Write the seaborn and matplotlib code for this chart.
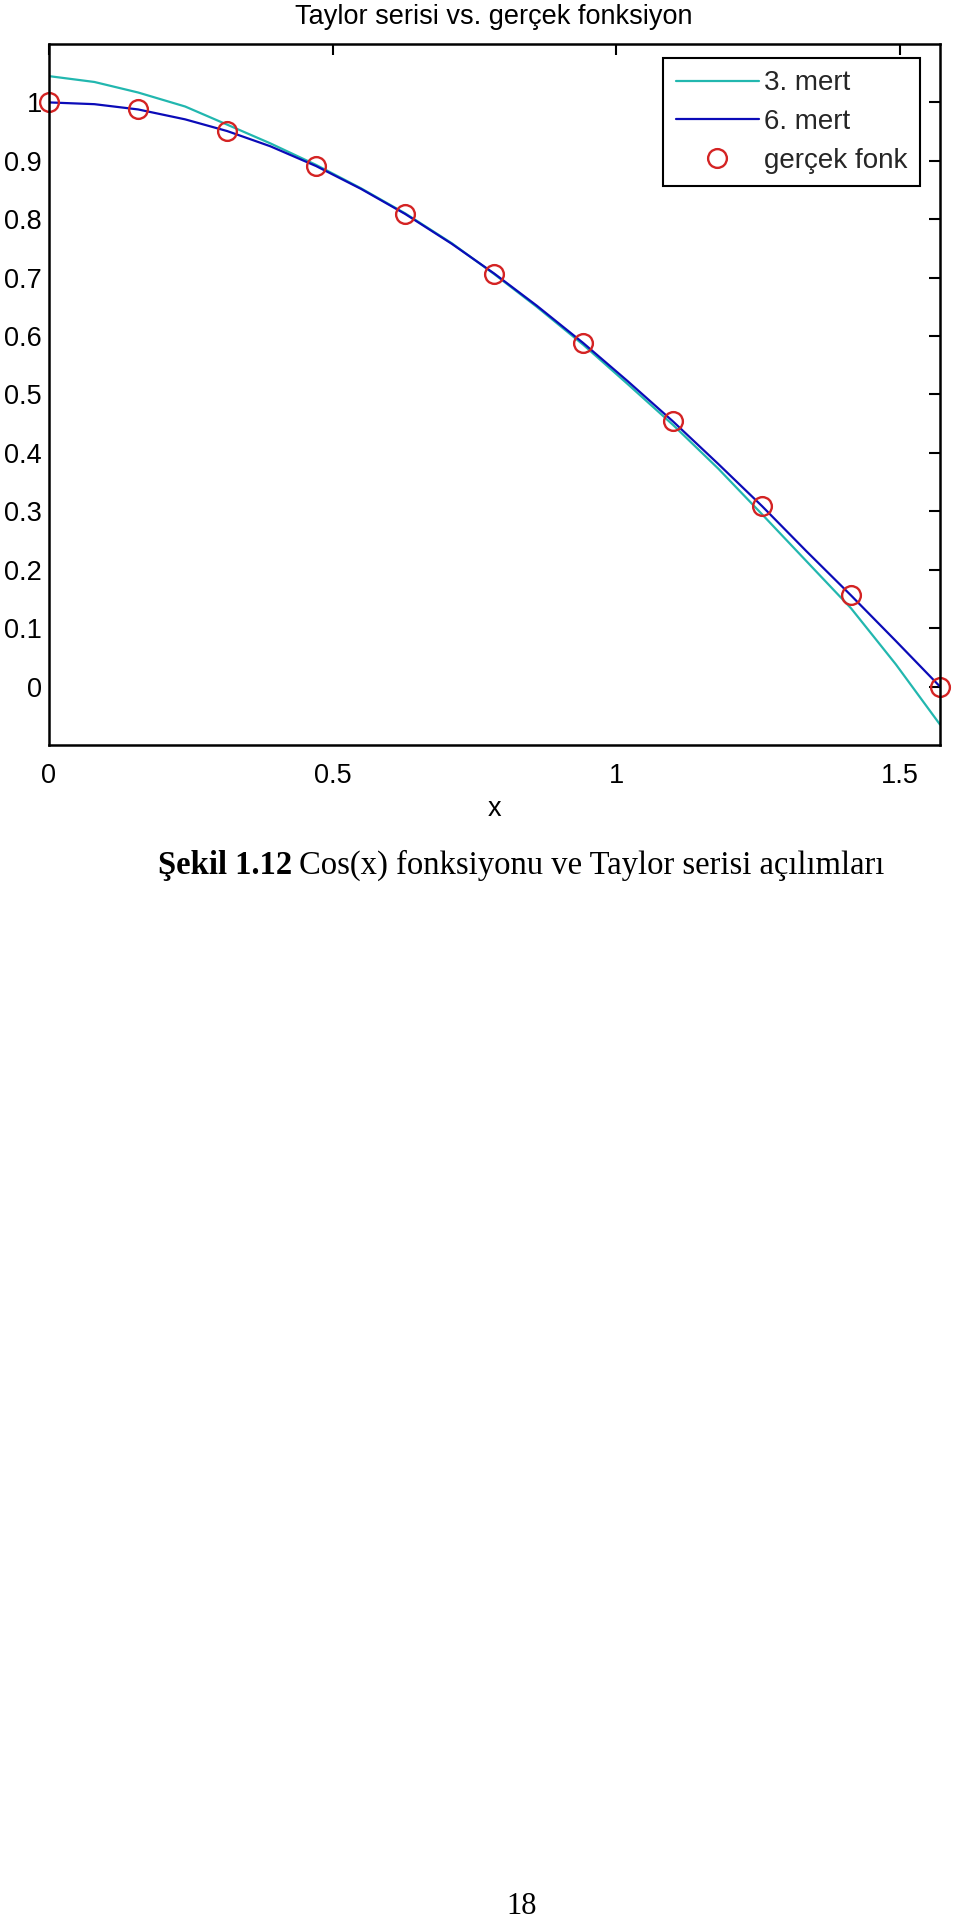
import matplotlib
matplotlib.use("Agg")
import matplotlib.pyplot as plt
import seaborn as sns

# ---- data ----
x_line = [0.0, 0.08, 0.157, 0.24, 0.314, 0.39, 0.471, 0.55, 0.628, 0.71, 0.785,
          0.86, 0.942, 1.02, 1.100, 1.18, 1.257, 1.335, 1.414, 1.493, 1.5708]
y_3mert = [1.045, 1.035, 1.017, 0.993, 0.962, 0.930, 0.893, 0.853, 0.810, 0.759, 0.706,
           0.650, 0.585, 0.518, 0.448, 0.373, 0.295, 0.215, 0.134, 0.038, -0.065]
y_6mert = [1.000, 0.997, 0.988, 0.971, 0.951, 0.925, 0.891, 0.852, 0.809, 0.758, 0.707,
           0.652, 0.588, 0.523, 0.454, 0.381, 0.309, 0.232, 0.156, 0.078, 0.000]
x_points = [0.0, 0.157, 0.314, 0.471, 0.628, 0.785, 0.942, 1.100, 1.257, 1.414, 1.5708]
y_points = [1.000, 0.988, 0.951, 0.891, 0.809, 0.707, 0.588, 0.454, 0.309, 0.156, 0.000]

series_labels = ["3. mert", "6. mert", "gerçek fonk"]
title_text = "Taylor serisi vs. gerçek fonksiyon"
xlabel_text = "x"
x_ticks = [0, 0.5, 1, 1.5]
x_ticklabels = ["0", "0.5", "1", "1.5"]
y_ticks = [0, 0.1, 0.2, 0.3, 0.4, 0.5, 0.6, 0.7, 0.8, 0.9, 1.0]
y_ticklabels = ["0", "0.1", "0.2", "0.3", "0.4", "0.5", "0.6", "0.7", "0.8", "0.9", "1"]
caption_bold = "Şekil 1.12"
caption_rest = "Cos(x) fonksiyonu ve Taylor serisi açılımları"
page_number = "18"

# ---- styling ----
sns.set_theme(style="white")
plt.rcParams["font.family"] = ["Liberation Sans", "DejaVu Sans"]

W, H = 960, 1919
fig = plt.figure(figsize=(W / 100, H / 100), dpi=100)
fig.patch.set_facecolor("white")
ax_l, ax_r, ax_t, ax_b = 49, 940, 44, 745
ax = fig.add_axes([ax_l / W, 1 - ax_b / H, (ax_r - ax_l) / W, (ax_b - ax_t) / H])
ax.set_facecolor("white")

cyan = "#22B7AF"
blue = "#0B0BB8"
red = "#D42323"

sns.lineplot(x=x_line, y=y_3mert, color=cyan, linewidth=1.6, label=series_labels[0],
             ax=ax, sort=False, estimator=None)
sns.lineplot(x=x_line, y=y_6mert, color=blue, linewidth=1.6, label=series_labels[1],
             ax=ax, sort=False, estimator=None)
sns.lineplot(x=x_points, y=y_points, color=red, linestyle="", marker="o", markersize=13.5,
             markerfacecolor="none", markeredgecolor=red, markeredgewidth=1.7,
             label=series_labels[2], ax=ax, sort=False, estimator=None, clip_on=False)

ax.set_xlim(0, 1.5708)
ax.set_ylim(-0.1, 1.1)
ax.set_xticks(x_ticks)
ax.set_xticklabels(x_ticklabels)
ax.set_yticks(y_ticks)
ax.set_yticklabels(y_ticklabels)
ax.tick_params(axis="both", direction="in", length=8, width=1.5, colors="black",
               labelsize=19.5, top=True, right=True)
ax.tick_params(axis="x", pad=13)
ax.tick_params(axis="y", pad=5)
for s in ax.spines.values():
    s.set_visible(True)
    s.set_color("black")
    s.set_linewidth(1.8)
ax.grid(False)
ax.set_xlabel(xlabel_text, fontsize=19.5, labelpad=5, color="black")
ax.set_ylabel("")

leg = ax.legend(loc="upper right",
                bbox_to_anchor=((920 - ax_l) / (ax_r - ax_l), 1 - (58 - ax_t) / (ax_b - ax_t)),
                borderaxespad=0, fontsize=20, handlelength=3.0, handletextpad=0.18,
                labelspacing=0.45, borderpad=0.45, fancybox=False, shadow=False,
                framealpha=1, edgecolor="black", numpoints=1)
leg.get_frame().set_linewidth(1.5)

fig.text(494 / W, 1 - 17 / H, title_text, ha="center", va="center", fontsize=19.5,
         color="black")

# caption: bold part + regular part, baseline-aligned
fig.canvas.draw()
renderer = fig.canvas.get_renderer()
cap_y = 1 - 874 / H
t1 = fig.text(158 / W, cap_y, caption_bold, ha="left", va="baseline",
              fontfamily=["Liberation Serif", "DejaVu Serif"], fontweight="bold",
              fontsize=23.5, color="black")
bb = t1.get_window_extent(renderer=renderer)
fig.text((bb.x1 + 7) / W, cap_y, caption_rest, ha="left", va="baseline",
         fontfamily=["Liberation Serif", "DejaVu Serif"], fontsize=23.5, color="black")

fig.text(522 / W, 1 - 1906 / H, page_number, ha="center", va="center",
         fontfamily=["Liberation Serif", "DejaVu Serif"], fontsize=22, color="black")

fig.savefig("out.png", dpi=100, facecolor="white")
